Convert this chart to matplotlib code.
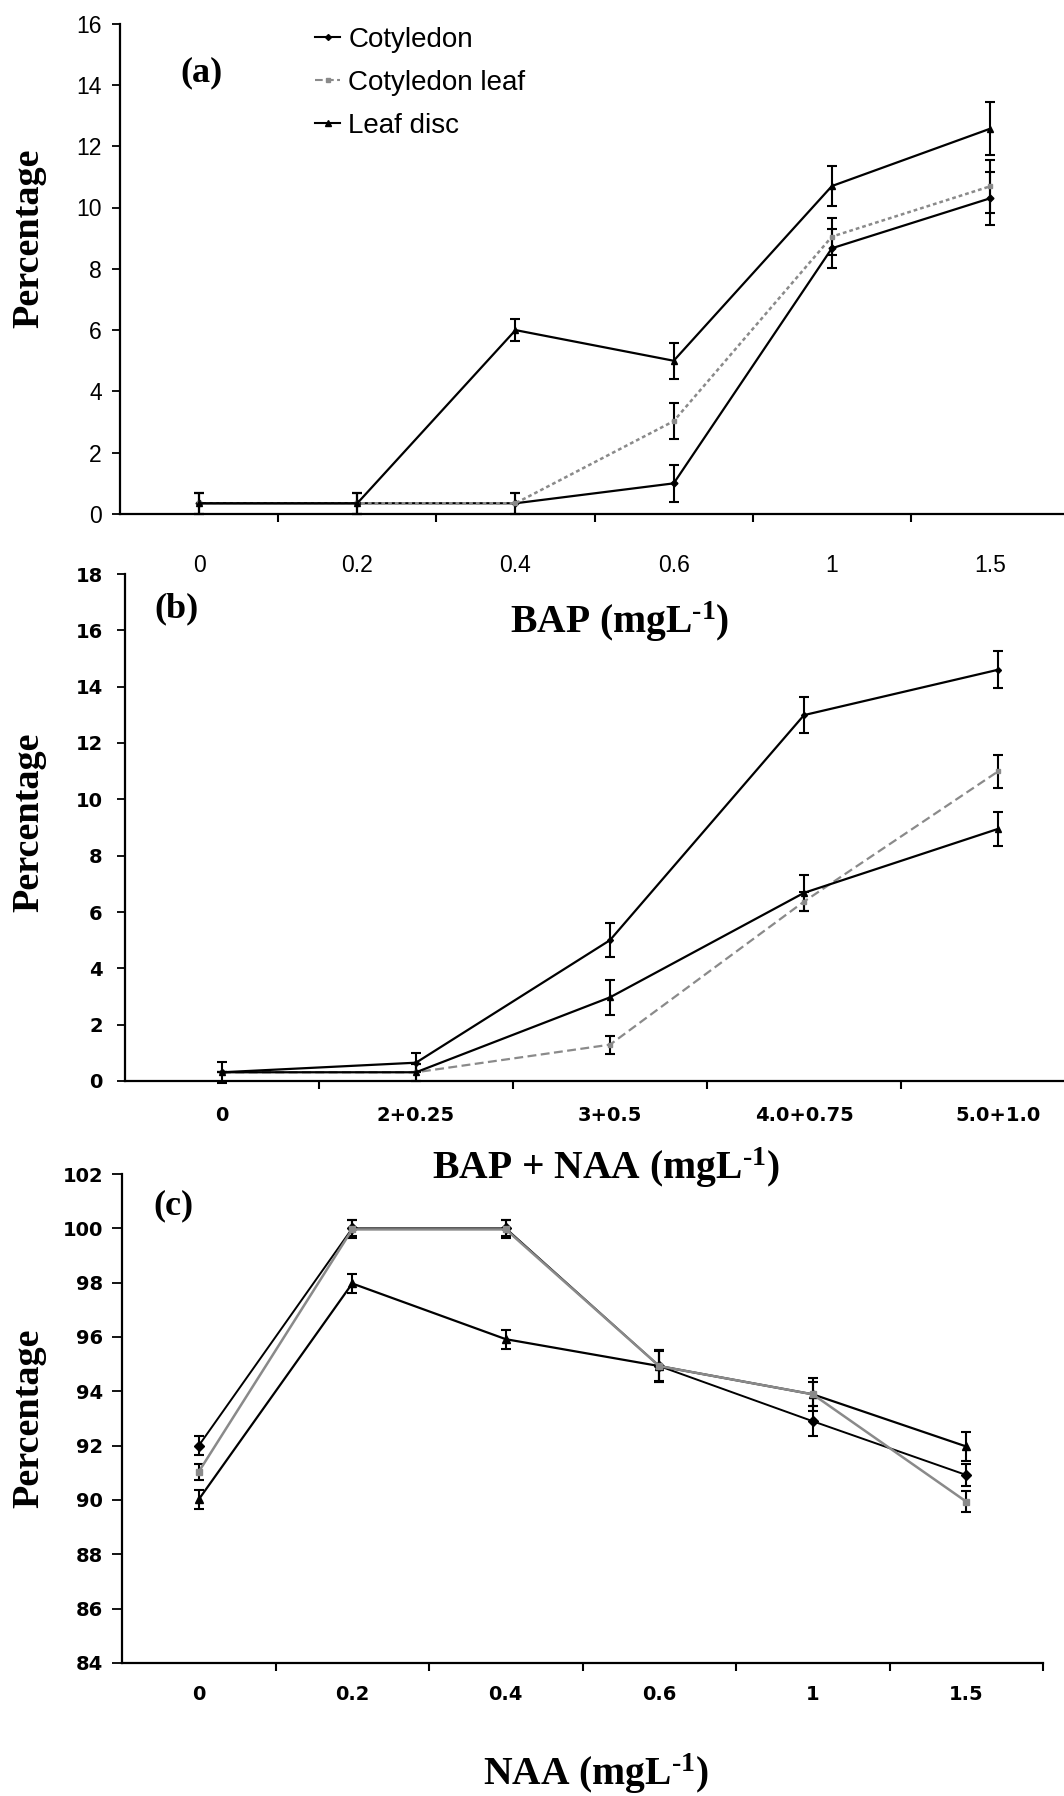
import numpy as np
import matplotlib
matplotlib.use('Agg')
import matplotlib.pyplot as plt
from matplotlib.lines import Line2D

plt.rcParams['mathtext.fontset'] = 'custom'
plt.rcParams['mathtext.rm'] = 'Liberation Serif:bold'
plt.rcParams['mathtext.bf'] = 'Liberation Serif:bold'
plt.rcParams['mathtext.it'] = 'Liberation Serif:bold:italic'

# ---------------- data
series = ['Cotyledon', 'Cotyledon leaf', 'Leaf disc']

cats_a = ['0', '0.2', '0.4', '0.6', '1', '1.5']
cot_a = [0.35, 0.35, 0.35, 1.0, 8.67, 10.3]
cot_a_err = [0.35, 0.35, 0.35, 0.6, 0.63, 0.87]
cotleaf_a = [0.35, 0.35, 0.35, 3.03, 9.05, 10.69]
cotleaf_a_err = [0.35, 0.35, 0.35, 0.58, 0.6, 0.87]
leafdisc_a = [0.35, 0.35, 6.0, 5.0, 10.7, 12.57]
leafdisc_a_err = [0.35, 0.35, 0.35, 0.58, 0.66, 0.87]

cats_b = ['0', '2+0.25', '3+0.5', '4.0+0.75', '5.0+1.0']
cot_b = [0.31, 0.65, 5.0, 12.99, 14.6]
cot_b_err = [0.38, 0.34, 0.61, 0.63, 0.65]
cotleaf_b = [0.31, 0.31, 1.29, 6.37, 10.99]
cotleaf_b_err = [0.0, 0.3, 0.32, 0.34, 0.58]
leafdisc_b = [0.31, 0.31, 2.97, 6.68, 8.95]
leafdisc_b_err = [0.0, 0.3, 0.61, 0.63, 0.6]

cats_c = ['0', '0.2', '0.4', '0.6', '1', '1.5']
cot_c = [92.0, 100.0, 100.0, 94.93, 92.9, 90.92]
cot_c_err = [0.36, 0.3, 0.3, 0.6, 0.55, 0.4]
cotleaf_c = [91.04, 99.96, 99.96, 94.93, 93.89, 89.94]
cotleaf_c_err = [0.3, 0.33, 0.33, 0.55, 0.44, 0.4]
leafdisc_c = [90.02, 97.97, 95.92, 94.93, 93.89, 91.97]
leafdisc_c_err = [0.35, 0.36, 0.35, 0.6, 0.6, 0.52]

W, H = 1064, 1796
fig = plt.figure(figsize=(W / 100, H / 100), dpi=100)
fig.patch.set_facecolor('white')

serif = 'Liberation Serif'
narrow = ['Liberation Sans Narrow', 'Liberation Sans']
gray = '#8a8a8a'


def px_axes(left, top, right, bottom):
    return fig.add_axes([left / W, 1 - bottom / H, (right - left) / W, (bottom - top) / H])


def ftext(x, y, s, **kw):
    fig.text(x / W, 1 - y / H, s, **kw)


def style(ax, cats, xlim, ylim, yticks, tfont, tsize, tweight, padx, pady, ylen):
    for s in ['top', 'right']:
        ax.spines[s].set_visible(False)
    for s in ['left', 'bottom']:
        ax.spines[s].set_linewidth(1.6)
    ax.set_xlim(xlim)
    ax.set_ylim(ylim)
    ax.set_xticks(range(len(cats)))
    ax.set_xticklabels(cats)
    ax.set_xticks(np.arange(len(cats)) + 0.5, minor=True)
    ax.set_yticks(yticks)
    ax.tick_params(axis='x', which='major', length=0, pad=padx)
    ax.tick_params(axis='x', which='minor', length=6, width=1.5, direction='out')
    ax.tick_params(axis='y', length=ylen, width=1.3, direction='out', pad=pady)
    for lab in ax.get_xticklabels() + ax.get_yticklabels():
        lab.set_family(tfont)
        lab.set_fontsize(tsize)
        lab.set_fontweight(tweight)


def draw(ax, x, y, e, color, ls, marker, ms, lw=1.6, z=3):
    ax.errorbar(x, y, yerr=e, color=color, ls=ls, lw=lw, marker=marker, ms=ms,
                mfc=color, mec=color, ecolor='black', elinewidth=1.5,
                capsize=3.5, capthick=1.5, clip_on=False, zorder=z)


# ---------------- (a) BAP
ax = px_axes(120, 23.6, 1069.2, 514)
style(ax, cats_a, (-0.5, 5.5), (0, 16), np.arange(0, 17, 2), narrow, 16.5, 'normal', 29, 7, 6)
xa = np.arange(len(cats_a))
draw(ax, xa, cot_a, cot_a_err, 'black', '-', 'D', 3.5)
draw(ax, xa, cotleaf_a, cotleaf_a_err, gray, (0, (1.5, 1.2)), 's', 3.5, lw=1.8)
draw(ax, xa, leafdisc_a, leafdisc_a_err, 'black', '-', '^', 4.5)
handles = [Line2D([], [], color='black', ls='-', lw=1.5, marker='D', ms=3),
           Line2D([], [], color=gray, ls='--', lw=1.5, marker='s', ms=3),
           Line2D([], [], color='black', ls='-', lw=1.5, marker='^', ms=4)]
ax.legend(handles, series, loc='upper left', bbox_to_anchor=(0.2055, 0.994),
          frameon=False, borderpad=0, borderaxespad=0, handlelength=0.9,
          handletextpad=0.3, labelspacing=0.62, numpoints=1,
          prop={'family': narrow, 'size': 20})

# ---------------- (b) BAP + NAA
ax = px_axes(125, 574, 1095, 1081)
style(ax, cats_b, (-0.5, 4.5), (0, 18), np.arange(0, 19, 2), 'DejaVu Sans', 14, 'bold', 18, 10, 6)
xb = np.arange(len(cats_b))
draw(ax, xb, cotleaf_b, cotleaf_b_err, gray, (0, (4, 2)), 's', 3)
draw(ax, xb, leafdisc_b, leafdisc_b_err, 'black', '-', '^', 4)
draw(ax, xb, cot_b, cot_b_err, 'black', '-', 'D', 3)

# ---------------- (c) NAA
ax = px_axes(122, 1174, 1043, 1663)
style(ax, cats_c, (-0.5, 5.33), (84, 102), np.arange(84, 103, 2), 'DejaVu Sans', 14, 'bold', 16, 6.5, 7)
xc = np.arange(len(cats_c))
draw(ax, xc, cot_c, cot_c_err, 'black', '-', 'D', 5, lw=1.4, z=2)
draw(ax, xc, leafdisc_c, leafdisc_c_err, 'black', '-', '^', 6, z=3)
draw(ax, xc, cotleaf_c, cotleaf_c_err, gray, '-', 's', 5, lw=1.8, z=4)

# ---------------- labels
for yc in [238, 822, 1418]:
    ftext(29, yc, 'Percentage', rotation=90, ha='center', va='center',
          family=serif, weight='bold', fontsize=27.5)
ftext(201, 73, '(a)', ha='center', va='center', family=serif, weight='bold', fontsize=26)
ftext(176, 609, '(b)', ha='center', va='center', family=serif, weight='bold', fontsize=26)
ftext(173, 1206, '(c)', ha='center', va='center', family=serif, weight='bold', fontsize=26)
sup = r'$^{\text{-1}}$'
ftext(620, 622, 'BAP (mgL' + sup + ')', ha='center', va='center', family=serif, weight='bold', fontsize=28.5)
ftext(606, 1168, 'BAP + NAA (mgL' + sup + ')', ha='center', va='center', family=serif, weight='bold', fontsize=28.5)
ftext(596, 1774, 'NAA (mgL' + sup + ')', ha='center', va='center', family=serif, weight='bold', fontsize=28.5)

fig.savefig('out.png', dpi=100, facecolor='w')
